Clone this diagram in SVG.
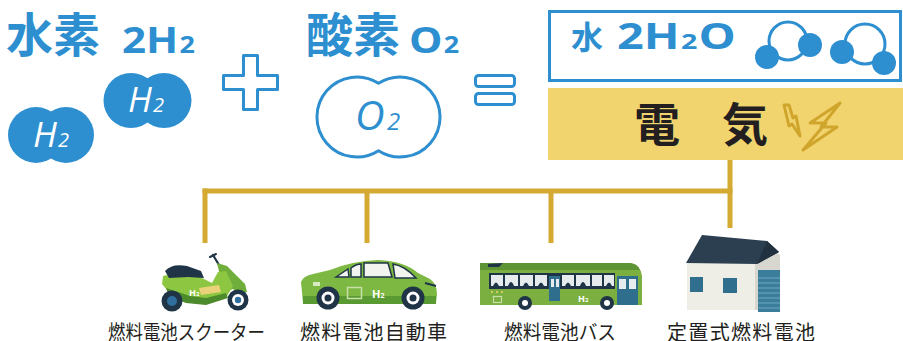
<svg xmlns="http://www.w3.org/2000/svg" width="903" height="341" viewBox="0 0 903 341">
  <style>
    .title { font-family: "Noto Sans CJK JP", sans-serif; font-weight: 700; fill: #2E8FD0; }
    .latin { font-family: "Open Sans", "Noto Sans", sans-serif; font-weight: 700; fill: #2E8FD0; }
    .mol { font-family: "Open Sans", "Noto Sans", sans-serif; font-style: italic; font-weight: 400; }
    .label { font-family: "Noto Sans CJK JP", sans-serif; font-size: 20px; fill: #231F20; }
    .outline { fill: #fff; stroke: #2E8FD0; stroke-width: 3; stroke-linejoin: round; }
    .atom { fill: #2E8FD0; }
    .wire { fill: none; stroke: #D4AA32; stroke-width: 5; }
    .bolt { fill: none; stroke: #CFA52C; stroke-width: 3; stroke-linejoin: round; }
    .navy { fill: #1F3447; }
    .teal { fill: #2F6E8C; }
  </style>

  <rect width="903" height="341" fill="#fff"/>

  <!-- hydrogen -->
  <g id="hydrogen">
    <text class="title" x="6" y="52" font-size="47">水素</text>
    <text class="latin" transform="translate(122,53) scale(1.17,1)" font-size="36">2H<tspan font-size="23" dx="1">2</tspan></text>
    <circle class="atom" cx="36" cy="135" r="28"/>
    <circle class="atom" cx="66" cy="135" r="28"/>
    <text class="mol" y="147" fill="#fff" font-size="35"><tspan x="33">H</tspan><tspan x="58" font-size="20">2</tspan></text>
    <circle class="atom" cx="131" cy="100.5" r="27.5"/>
    <circle class="atom" cx="164" cy="100.5" r="27.5"/>
    <text class="mol" y="112" fill="#fff" font-size="35"><tspan x="128">H</tspan><tspan x="153" font-size="20">2</tspan></text>
  </g>

  <!-- plus sign -->
  <g id="plus">
    <path class="outline" d="M243.5,55.5 H257.5 V75.5 H277.5 V89.5 H257.5 V109.5 H243.5 V89.5 H223.5 V75.5 H243.5 Z"/>
  </g>

  <!-- oxygen -->
  <g id="oxygen">
    <text class="title" x="306" y="52" font-size="47">酸素</text>
    <text class="latin" transform="translate(409,53) scale(1.17,1)" font-size="36">O<tspan font-size="23" dx="1">2</tspan></text>
    <path class="outline" d="M378.5,83.3 A40,40 0 1,0 378.5,150.7 A40,40 0 1,0 378.5,83.3 Z"/>
    <text class="mol" y="130" fill="#2E8FD0" font-size="41" font-weight="300"><tspan x="355">O</tspan><tspan x="387" font-size="24">2</tspan></text>
  </g>

  <!-- equals sign -->
  <g id="equals">
    <rect class="outline" x="475.5" y="75.5" width="39" height="11" rx="3"/>
    <rect class="outline" x="475.5" y="93.5" width="39" height="11" rx="3"/>
  </g>

  <!-- water -->
  <g id="water">
    <rect x="549.5" y="11.5" width="351" height="69" fill="#fff" stroke="#2E8FD0" stroke-width="3"/>
    <text class="title" x="571" y="49" font-size="32">水</text>
    <text class="latin" transform="translate(617,49) scale(1.3,1)" font-size="36">2H<tspan font-size="22" dx="1">2</tspan><tspan dx="1">O</tspan></text>
    <circle cx="788" cy="41" r="19" fill="none" stroke="#2E8FD0" stroke-width="3"/>
    <circle class="atom" cx="767" cy="57" r="12"/>
    <circle class="atom" cx="810" cy="45" r="12"/>
    <circle cx="865" cy="44" r="20" fill="none" stroke="#2E8FD0" stroke-width="3"/>
    <circle class="atom" cx="842" cy="52" r="12"/>
    <circle class="atom" cx="884" cy="63" r="12"/>
  </g>

  <!-- electricity -->
  <g id="electricity">
    <rect x="548" y="88" width="355" height="72" fill="#F2D46E"/>
    <text x="634" y="141" font-size="46" font-family="Noto Sans CJK JP, sans-serif" font-weight="700" fill="#231F20">電</text>
    <text x="722" y="141" font-size="46" font-family="Noto Sans CJK JP, sans-serif" font-weight="700" fill="#231F20">気</text>
    <path class="bolt" d="M784,105 L789,105 L793,118 L796,116 L800,136 L792,124 L789,126 Z"/>
    <path class="bolt" d="M840,103 L810,123 L826,123 L803,150 L837,127 L821,127 Z"/>
  </g>

  <!-- connectors -->
  <g id="connectors">
    <path class="wire" d="M730,160 V228"/>
    <path class="wire" d="M202.5,191 H732.5"/>
    <path class="wire" d="M205,188.5 V243"/>
    <path class="wire" d="M367,191 V243"/>
    <path class="wire" d="M551,191 V243"/>
  </g>

  <!-- fuel cell scooter -->
  <g id="scooter">
    <path d="M213,255 L219,265" stroke="#1F3447" stroke-width="2.2" stroke-linecap="round"/>
    <path d="M210,257 L216,254" stroke="#1F3447" stroke-width="2" stroke-linecap="round"/>
    <path d="M217,263 L227,266 L237,276 L245,284 L247,292 L240,294 L233,289 L224,292 Z" fill="#6FAE3A"/>
    <path d="M163,276 L180,272 L200,277 L212,283 L218,272 L226,271 L233,286 L227,296 L206,301 L190,301 L177,295 L167,290 L162,284 Z" fill="#8DC641"/>
    <path d="M166,288 L190,296 L206,298 L226,293 L228,298 L206,305 L186,303 L169,296 Z" fill="#4D8A2C"/>
    <path d="M165,271 Q172,263 187,266 L201,271 L204,278 L188,277 L169,278 Z" class="navy"/>
    <path d="M199,288 L219,285 L221,292 L201,295 Z" fill="#EAD27A"/>
    <circle cx="172" cy="301" r="10.5" class="navy"/>
    <circle cx="172" cy="301" r="5" fill="#2F6FA0"/>
    <circle cx="238" cy="300" r="10.5" class="navy"/>
    <circle cx="238" cy="300" r="6" fill="#fff"/>
    <circle cx="238" cy="300" r="3.2" fill="#2F6FA0"/>
    <text x="189" y="296" font-size="9" font-family="Open Sans, sans-serif" font-weight="700" fill="#fff">H<tspan font-size="6">2</tspan></text>
  </g>

  <!-- fuel cell car -->
  <g id="car">
    <path d="M301,282 Q303,276 313,274 L330,270 Q352,261 378,260 Q404,261 418,273 L430,279 Q437,284 437,294 L436,303 L303,303 Z" fill="#7DB843"/>
    <path d="M303,296 L436,296 L436,304 L303,304 Z" fill="#5A9A32"/>
    <path d="M336,277 L348,269 L349,277 Z" fill="#F2F4F0" stroke="#1F3447" stroke-width="1.5"/>
    <path d="M351,268 Q356,264 361,264 L361,277 L351,277 Z" fill="#F2F4F0" stroke="#1F3447" stroke-width="1.5"/>
    <path d="M364,263 L388,263 L392,277 L364,277 Z" fill="#F2F4F0" stroke="#1F3447" stroke-width="1.5"/>
    <path d="M393,264 Q405,266 416,278 L395,278 Z" fill="#F2F4F0" stroke="#1F3447" stroke-width="1.5"/>
    <rect x="313" y="282" width="7" height="4" fill="#D8EBC0"/>
    <rect x="347.5" y="287.5" width="14" height="11" fill="none" stroke="#C8E0A8" stroke-width="1.5"/>
    <path d="M425,283 L436,286" stroke="#1F3447" stroke-width="2"/>
    <text x="372" y="298" font-size="11" font-family="Open Sans, sans-serif" font-weight="700" fill="#fff">H<tspan font-size="7">2</tspan></text>
    <circle cx="328" cy="298" r="11.5" class="navy"/>
    <circle cx="328" cy="298" r="6.5" fill="#fff"/>
    <circle cx="328" cy="298" r="3.5" class="navy"/>
    <circle cx="413" cy="298" r="11.5" class="navy"/>
    <circle cx="413" cy="298" r="6.5" fill="#fff"/>
    <circle cx="413" cy="298" r="3.5" class="navy"/>
  </g>

  <!-- fuel cell bus -->
  <g id="bus">
    <path d="M480,263 L630,263 Q641,265 642,276 L642,305 L480,305 Z" fill="#7BAF3F"/>
    <path d="M480,263 L630,263 Q638,264 640,270 L480,270 Z" fill="#5E9433"/>
    <path d="M488,264 L503,263 L499,267 L488,267 Z" class="navy"/>
    <rect x="489" y="273" width="126" height="16" class="navy"/>
    <rect x="491" y="275" width="12" height="11" fill="#E6ECEE"/>
    <rect x="505" y="275" width="13" height="11" fill="#E6ECEE"/>
    <rect x="520" y="275" width="13" height="11" fill="#E6ECEE"/>
    <rect x="535" y="275" width="12" height="11" fill="#E6ECEE"/>
    <rect x="562" y="275" width="12" height="11" fill="#E6ECEE"/>
    <rect x="576" y="275" width="14" height="11" fill="#E6ECEE"/>
    <rect x="592" y="275" width="10" height="11" fill="#E6ECEE"/>
    <rect x="604" y="275" width="10" height="11" fill="#E6ECEE"/>
    <path d="M493,286 q3,-7 6,0 Z M508,286 q3,-8 6,0 Z M523,286 q3,-7 6,0 Z M538,286 q3,-7 6,0 Z M565,286 q3,-7 6,0 Z M580,286 q3,-8 6,0 Z M606,286 q3,-7 6,0 Z" class="navy"/>
    <rect x="549" y="276" width="11" height="25" class="teal"/>
    <rect x="551" y="279" width="3" height="8" fill="#E6ECEE"/>
    <rect x="556" y="279" width="3" height="8" fill="#E6ECEE"/>
    <rect x="617" y="276" width="21" height="29" class="teal"/>
    <rect x="619" y="279" width="7" height="10" fill="#E6ECEE"/>
    <rect x="629" y="279" width="7" height="10" fill="#E6ECEE"/>
    <circle cx="492" cy="292" r="1" fill="#F2D46E"/>
    <circle cx="497" cy="292" r="1" fill="#F2D46E"/>
    <circle cx="502" cy="292" r="1" fill="#F2D46E"/>
    <rect x="493.5" y="296.5" width="8" height="6" fill="none" stroke="#C8E0A8" stroke-width="1.2"/>
    <text x="578" y="302" font-size="9" font-family="Open Sans, sans-serif" font-weight="700" fill="#fff">H<tspan font-size="6">2</tspan></text>
    <circle cx="525" cy="303" r="7" class="navy"/>
    <circle cx="525" cy="303" r="3" fill="#fff"/>
    <circle cx="607" cy="303" r="7" class="navy"/>
    <circle cx="607" cy="303" r="3" fill="#fff"/>
  </g>

  <!-- stationary fuel cell (house) -->
  <g id="house">
    <path d="M755,262 L772,249 L780,255 L780,310 L755,310 Z" fill="#D8D7CF"/>
    <rect x="687" y="262" width="68" height="48" fill="#EEEDE6"/>
    <path d="M686,263 L702,235 L767,241 L779,252 L757,264 Z" fill="#2B3F50"/>
    <path d="M767,241 L779,252 L757,264 Z" fill="#22313F"/>
    <rect x="690" y="277" width="13" height="15" class="teal"/>
    <rect x="723" y="278" width="14" height="15" class="teal"/>
    <rect x="758" y="270" width="22" height="42" fill="#3A7E9C"/>
    <path d="M758,278 H780 M758,283 H780 M758,288 H780 M758,293 H780 M758,298 H780 M758,303 H780 M758,308 H780" stroke="#6FA6BE" stroke-width="1"/>
  </g>

  <!-- captions -->
  <g id="captions">
    <text class="label" x="108" y="340" textLength="157" lengthAdjust="spacingAndGlyphs">燃料電池スクーター</text>
    <text class="label" x="300" y="340" textLength="147">燃料電池自動車</text>
    <text class="label" x="504" y="340" textLength="112" lengthAdjust="spacingAndGlyphs">燃料電池バス</text>
    <text class="label" x="667" y="340" textLength="148">定置式燃料電池</text>
  </g>
</svg>
